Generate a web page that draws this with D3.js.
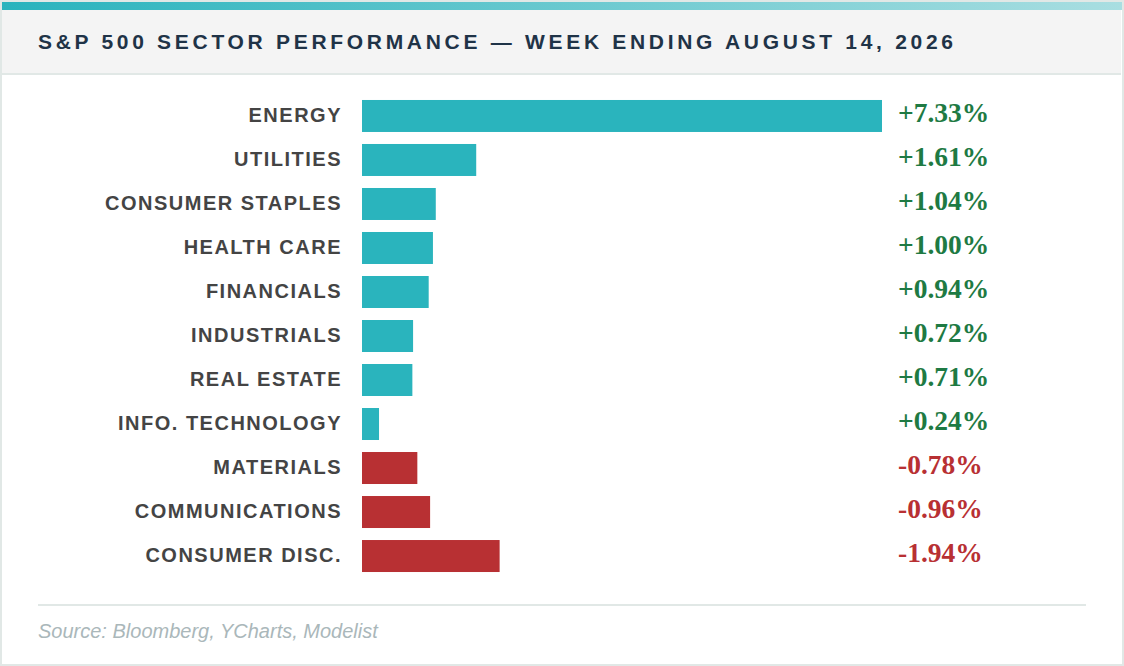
<!DOCTYPE html>
<html>
<head>
<meta charset="utf-8">
<script src="https://cdn.jsdelivr.net/npm/d3@7"></script>
<style>
  html, body { margin: 0; padding: 0; background: #fff; }
  svg { display: block; }
</style>
</head>
<body>
<svg id="chart" width="1124" height="666"></svg>
<script>
// sector data, week ending Aug 14 2026
var sectors = ["ENERGY", "UTILITIES", "CONSUMER STAPLES", "HEALTH CARE", "FINANCIALS",
  "INDUSTRIALS", "REAL ESTATE", "INFO. TECHNOLOGY", "MATERIALS", "COMMUNICATIONS", "CONSUMER DISC."];
var changes = [7.33, 1.61, 1.04, 1.00, 0.94, 0.72, 0.71, 0.24, -0.78, -0.96, -1.94];
var titleText = "S&P 500 SECTOR PERFORMANCE \u2014 WEEK ENDING AUGUST 14, 2026";
var sourceText = "Source: Bloomberg, YCharts, Modelist";

var W = 1124, H = 666;
var svg = d3.select("#chart");

var rows = sectors.map(function(s, i) { return {name: s, value: changes[i]}; });

// frame
svg.append("rect").attr("x", 1).attr("y", 1).attr("width", W - 2).attr("height", H - 2)
  .attr("fill", "#fff").attr("stroke", "#e1e8e6").attr("stroke-width", 2);

// top gradient strip
var grad = svg.append("defs").append("linearGradient").attr("id", "topGrad");
grad.append("stop").attr("offset", "0%").attr("stop-color", "#29b3bd");
grad.append("stop").attr("offset", "100%").attr("stop-color", "#a9dee1");
svg.append("rect").attr("x", 2).attr("y", 2).attr("width", W - 4).attr("height", 8).attr("fill", "url(#topGrad)");

// header band
svg.append("rect").attr("x", 2).attr("y", 10).attr("width", W - 5).attr("height", 63).attr("fill", "#f4f4f4");
svg.append("rect").attr("x", 2).attr("y", 73).attr("width", W - 5).attr("height", 2).attr("fill", "#e1e8e6");
svg.append("text").attr("x", 38).attr("y", 48.5)
  .attr("font-family", "Liberation Sans, Arial, sans-serif").attr("font-weight", "bold")
  .attr("font-size", 21).attr("letter-spacing", "3.7px").attr("fill", "#1f3347")
  .text(titleText);

// scales
var x = d3.scaleLinear()
  .domain([0, d3.max(rows, function(d) { return Math.abs(d.value); })])
  .range([362, 882]);
var y = d3.scaleBand()
  .domain(sectors)
  .range([94, 94 + 44 * sectors.length])
  .paddingInner(0.273).paddingOuter(0.136);

var g = svg.selectAll(".row").data(rows).enter().append("g").attr("class", "row");

g.append("rect")
  .attr("x", x(0))
  .attr("y", function(d) { return y(d.name); })
  .attr("width", function(d) { return x(Math.abs(d.value)) - x(0); })
  .attr("height", y.bandwidth())
  .attr("fill", function(d) { return d.value >= 0 ? "#2ab4bd" : "#b83033"; });

g.append("text")
  .attr("x", 342)
  .attr("y", function(d) { return y(d.name) + y.bandwidth() / 2; })
  .attr("dy", "0.32em")
  .attr("text-anchor", "end")
  .attr("font-family", "Liberation Sans, Arial, sans-serif").attr("font-weight", "bold")
  .attr("font-size", 20).attr("letter-spacing", "1.5px").attr("fill", "#444")
  .text(function(d) { return d.name; });

g.append("text")
  .attr("x", 898)
  .attr("y", function(d) { return y(d.name) + y.bandwidth() / 2; })
  .attr("dy", "0.22em")
  .attr("font-family", "Liberation Serif, Times New Roman, serif").attr("font-weight", "bold")
  .attr("font-size", 27.5)
  .attr("fill", function(d) { return d.value >= 0 ? "#1e7a43" : "#b83033"; })
  .text(function(d) { return (d.value >= 0 ? "+" : "") + d.value.toFixed(2) + "%"; });

// footer
svg.append("rect").attr("x", 38).attr("y", 604).attr("width", 1048).attr("height", 2).attr("fill", "#e1e8e6");
svg.append("text").attr("x", 38).attr("y", 638)
  .attr("font-family", "Liberation Sans, Arial, sans-serif").attr("font-style", "italic")
  .attr("font-size", 20).attr("fill", "#aab7ba")
  .text(sourceText);
</script>
</body>
</html>
